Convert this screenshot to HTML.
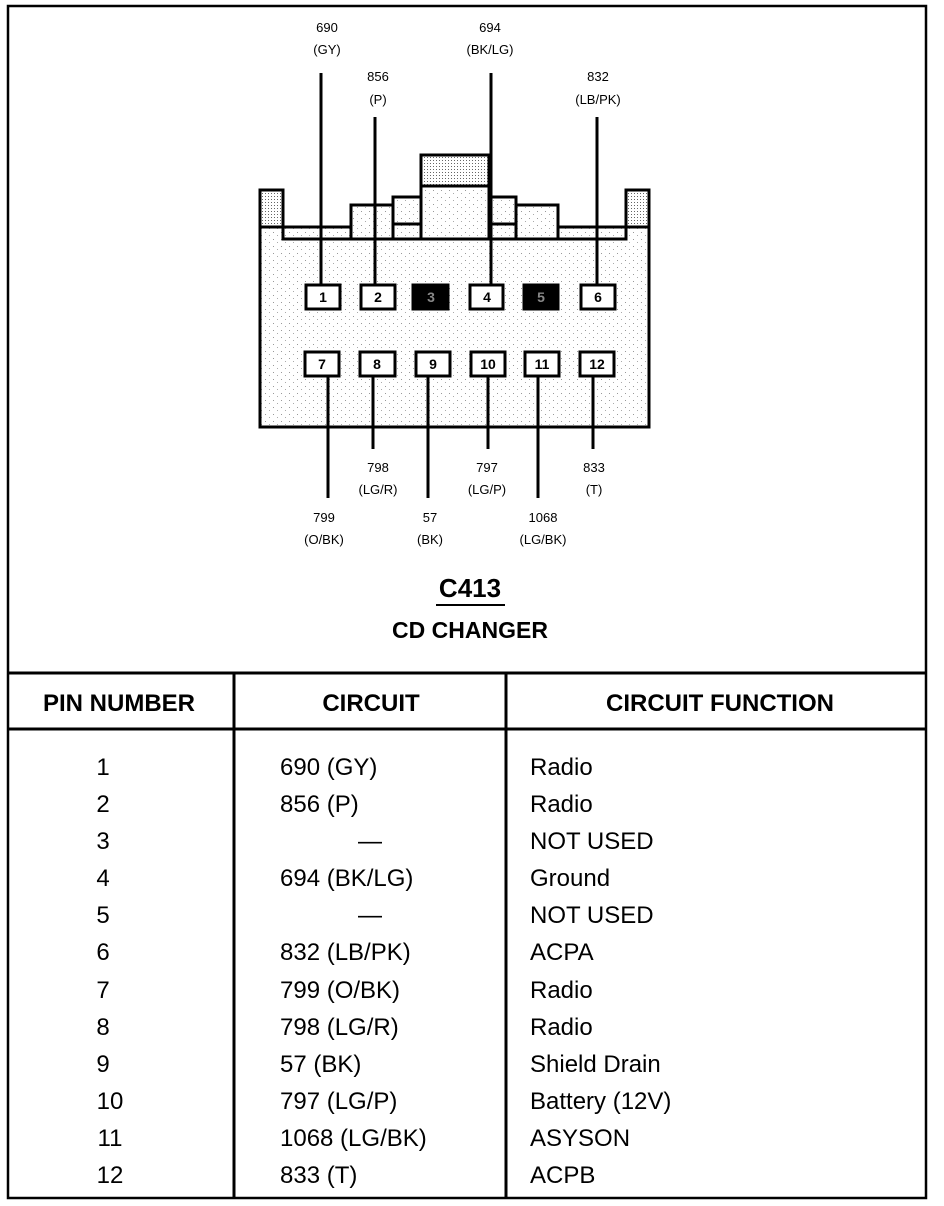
<!DOCTYPE html>
<html><head><meta charset="utf-8"><style>
html,body{margin:0;padding:0;background:#fff;}
svg{display:block;}
text{font-family:"Liberation Sans",sans-serif;fill:#000;}
</style></head><body>
<svg width="944" height="1206" viewBox="0 0 944 1206" xmlns="http://www.w3.org/2000/svg">
<defs>
<pattern id="dots" width="8" height="7" patternUnits="userSpaceOnUse">
<rect width="8" height="7" fill="#fff"/>
<rect x="1" y="1" width="1" height="1" fill="#999"/>
<rect x="5" y="4" width="1" height="1" fill="#aaa"/>
</pattern>
<pattern id="dots2" width="3" height="3" patternUnits="userSpaceOnUse">
<rect width="3" height="3" fill="#fff"/>
<rect x="1" y="1" width="1" height="1" fill="#666"/>
</pattern>
</defs>
<rect x="8" y="6" width="918" height="1192" fill="none" stroke="#000" stroke-width="2.5"/>

<g stroke="#000" stroke-width="3" fill="url(#dots)">
<path d="M260 227 H351 V205 H393 V197 H421 V155 H489 V197 H516 V205 H558 V227 H649 V427 H260 Z"/>
</g>
<g stroke="#000" stroke-width="3">
<rect x="260" y="190" width="23" height="37" fill="url(#dots2)"/>
<rect x="626" y="190" width="23" height="37" fill="url(#dots2)"/>
<rect x="421" y="155" width="68" height="31" fill="url(#dots2)"/>
<polyline points="283,227 283,239 626,239 626,227" fill="none"/>
<line x1="351" y1="205" x2="351" y2="239"/>
<line x1="393" y1="197" x2="393" y2="239"/>
<line x1="393" y1="224" x2="421" y2="224"/>
<line x1="421" y1="186" x2="421" y2="239"/>
<line x1="489" y1="186" x2="489" y2="239"/>
<line x1="489" y1="224" x2="516" y2="224"/>
<line x1="516" y1="197" x2="516" y2="239"/>
<line x1="558" y1="205" x2="558" y2="239"/>
</g>

<g stroke="#000" stroke-width="3">
<line x1="321" y1="73" x2="321" y2="284"/>
<line x1="375" y1="117" x2="375" y2="284"/>
<line x1="491" y1="73" x2="491" y2="284"/>
<line x1="597" y1="117" x2="597" y2="284"/>
<line x1="328" y1="376" x2="328" y2="498"/>
<line x1="373" y1="376" x2="373" y2="449"/>
<line x1="428" y1="376" x2="428" y2="498"/>
<line x1="488" y1="376" x2="488" y2="449"/>
<line x1="538" y1="376" x2="538" y2="498"/>
<line x1="593" y1="376" x2="593" y2="449"/>
</g>

<g stroke="#000" stroke-width="3" fill="#fff">
<rect x="306" y="285" width="34" height="24"/>
<rect x="361" y="285" width="34" height="24"/>
<rect x="413" y="285" width="35" height="24" fill="#000"/>
<rect x="470" y="285" width="33" height="24"/>
<rect x="524" y="285" width="34" height="24" fill="#000"/>
<rect x="581" y="285" width="34" height="24"/>
<rect x="305" y="352" width="34" height="24"/>
<rect x="360" y="352" width="35" height="24"/>
<rect x="416" y="352" width="34" height="24"/>
<rect x="471" y="352" width="34" height="24"/>
<rect x="525" y="352" width="34" height="24"/>
<rect x="580" y="352" width="34" height="24"/>
</g>
<g font-size="14" font-weight="bold" text-anchor="middle">
<text x="323" y="302">1</text><text x="378" y="302">2</text>
<text x="431" y="302" style="fill:#888">3</text><text x="487" y="302">4</text>
<text x="541" y="302" style="fill:#888">5</text><text x="598" y="302">6</text>
<text x="322" y="369">7</text><text x="377" y="369">8</text>
<text x="433" y="369">9</text><text x="488" y="369">10</text>
<text x="542" y="369">11</text><text x="597" y="369">12</text>
</g>

<g font-size="13" text-anchor="middle">
<text x="327" y="32">690</text><text x="327" y="54">(GY)</text>
<text x="378" y="81">856</text><text x="378" y="104">(P)</text>
<text x="490" y="32">694</text><text x="490" y="54">(BK/LG)</text>
<text x="598" y="81">832</text><text x="598" y="104">(LB/PK)</text>
<text x="378" y="472">798</text><text x="378" y="494">(LG/R)</text>
<text x="487" y="472">797</text><text x="487" y="494">(LG/P)</text>
<text x="594" y="472">833</text><text x="594" y="494">(T)</text>
<text x="324" y="522">799</text><text x="324" y="544">(O/BK)</text>
<text x="430" y="522">57</text><text x="430" y="544">(BK)</text>
<text x="543" y="522">1068</text><text x="543" y="544">(LG/BK)</text>
</g>

<text x="470" y="597" font-size="26" font-weight="bold" text-anchor="middle">C413</text>
<line x1="436" y1="605" x2="505" y2="605" stroke="#000" stroke-width="2"/>
<text x="470" y="638" font-size="23" font-weight="bold" text-anchor="middle">CD CHANGER</text>

<g stroke="#000">
<line x1="8" y1="673" x2="926" y2="673" stroke-width="3"/>
<line x1="8" y1="729" x2="926" y2="729" stroke-width="3"/>
<line x1="234" y1="673" x2="234" y2="1198" stroke-width="3"/>
<line x1="506" y1="673" x2="506" y2="1198" stroke-width="3"/>
</g>
<g font-size="24" font-weight="bold" text-anchor="middle">
<text x="119" y="711">PIN NUMBER</text>
<text x="371" y="711">CIRCUIT</text>
<text x="720" y="711">CIRCUIT FUNCTION</text>
</g>
<g font-size="24">
<g text-anchor="middle">
<text x="103" y="775">1</text><text x="103" y="812">2</text><text x="103" y="849">3</text>
<text x="103" y="886">4</text><text x="103" y="923">5</text><text x="103" y="960">6</text>
<text x="103" y="998">7</text><text x="103" y="1035">8</text><text x="103" y="1072">9</text>
<text x="110" y="1109">10</text><text x="110" y="1146">11</text><text x="110" y="1183">12</text>
</g>
<text x="280" y="775">690 (GY)</text>
<text x="280" y="812">856 (P)</text>
<text x="358" y="849">—</text>
<text x="280" y="886">694 (BK/LG)</text>
<text x="358" y="923">—</text>
<text x="280" y="960">832 (LB/PK)</text>
<text x="280" y="998">799 (O/BK)</text>
<text x="280" y="1035">798 (LG/R)</text>
<text x="280" y="1072">57 (BK)</text>
<text x="280" y="1109">797 (LG/P)</text>
<text x="280" y="1146">1068 (LG/BK)</text>
<text x="280" y="1183">833 (T)</text>
<text x="530" y="775">Radio</text>
<text x="530" y="812">Radio</text>
<text x="530" y="849">NOT USED</text>
<text x="530" y="886">Ground</text>
<text x="530" y="923">NOT USED</text>
<text x="530" y="960">ACPA</text>
<text x="530" y="998">Radio</text>
<text x="530" y="1035">Radio</text>
<text x="530" y="1072">Shield Drain</text>
<text x="530" y="1109">Battery (12V)</text>
<text x="530" y="1146">ASYSON</text>
<text x="530" y="1183">ACPB</text>
</g>
</svg>
</body></html>
